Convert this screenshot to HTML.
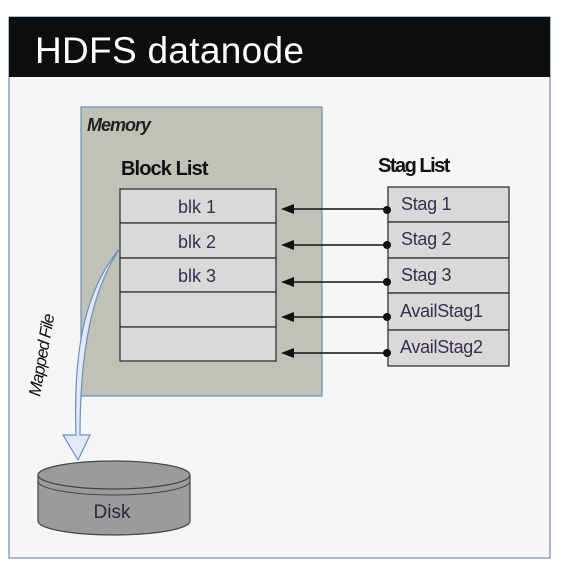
<!DOCTYPE html>
<html><head><style>body{margin:0;background:#fff}svg{display:block}</style></head><body>
<svg width="568" height="574" xmlns="http://www.w3.org/2000/svg" font-family="Liberation Sans, sans-serif">
<rect x="0" y="0" width="568" height="574" fill="#fff"/>
<rect x="9" y="17" width="541" height="541" fill="#f6f6f6" stroke="#6b8fba" stroke-width="1.2"/>
<rect x="9" y="17" width="541" height="60" fill="#0d0d0d"/>
<text x="35" y="63" font-size="37" fill="#fff" letter-spacing="0.3">HDFS datanode</text>
<rect x="81" y="107" width="241" height="289" fill="#c0c2b8" stroke="#6b8fba" stroke-width="1.2"/>
<text x="87" y="131" font-size="18" font-style="italic" font-weight="bold" fill="#222" letter-spacing="-1">Memory</text>
<text x="121" y="175" font-size="20" font-weight="bold" fill="#111" letter-spacing="-0.9">Block List</text>
<text x="378" y="172" font-size="20" font-weight="bold" fill="#111" letter-spacing="-1.5">Stag List</text>
<g fill="#d9d9d9" stroke="#333" stroke-width="1.3">
<rect x="120" y="189" width="156" height="34"/><rect x="120" y="223" width="156" height="35"/><rect x="120" y="258" width="156" height="34"/><rect x="120" y="292" width="156" height="35"/><rect x="120" y="327" width="156" height="34"/>
<rect x="388" y="187" width="121" height="35"/><rect x="388" y="222" width="121" height="36"/><rect x="388" y="258" width="121" height="35"/><rect x="388" y="293" width="121" height="37"/><rect x="388" y="330" width="121" height="36"/>
</g>
<g font-size="18" fill="#3a2f4a" text-anchor="middle">
<text x="197" y="213">blk 1</text><text x="197" y="248">blk 2</text><text x="197" y="282">blk 3</text>
</g>
<g font-size="18" fill="#3a2f4a" letter-spacing="-0.3">
<text x="401" y="210">Stag 1</text><text x="401" y="245">Stag 2</text><text x="401" y="281">Stag 3</text><text x="400" y="317">AvailStag1</text><text x="400" y="353">AvailStag2</text>
</g>
<g stroke="#111" stroke-width="1.6" fill="#111">
<line x1="386" y1="209" x2="292" y2="209"/><polygon points="281,209 294,204 294,214" stroke="none"/><circle cx="387" cy="210" r="4" stroke="none"/>
<line x1="386" y1="245" x2="292" y2="245"/><polygon points="281,245 294,240 294,250" stroke="none"/><circle cx="387" cy="245" r="4" stroke="none"/>
<line x1="386" y1="282" x2="292" y2="282"/><polygon points="281,282 294,277 294,287" stroke="none"/><circle cx="387" cy="282" r="4" stroke="none"/>
<line x1="386" y1="317" x2="292" y2="317"/><polygon points="281,317 294,312 294,322" stroke="none"/><circle cx="387" cy="317" r="4" stroke="none"/>
<line x1="386" y1="353" x2="292" y2="353"/><polygon points="281,353 294,348 294,358" stroke="none"/><circle cx="387" cy="353" r="4" stroke="none"/>
</g>
<path d="M120,248 C85,290 73,350 76,435 L63,435 L78,460 L90,435 L80,435 C80,350 92,290 120,248 Z" fill="#e4e8fb" stroke="#6b8fba" stroke-width="1.2"/>
<text transform="translate(40,397) rotate(-80)" font-size="17" font-style="italic" fill="#111" letter-spacing="-1">Mapped File</text>
<path d="M38,475 L38,521 A76,14 0 0 0 190,521 L190,475" fill="#9b9b9b" stroke="#444" stroke-width="1.2"/>
<ellipse cx="114" cy="475" rx="76" ry="14" fill="#9b9b9b" stroke="#444" stroke-width="1.2"/>
<path d="M38,481 A76,14 0 0 0 190,481" fill="none" stroke="#444" stroke-width="1"/>
<text x="112" y="518" font-size="19" fill="#2a2a3a" text-anchor="middle">Disk</text>
</svg>
</body></html>
